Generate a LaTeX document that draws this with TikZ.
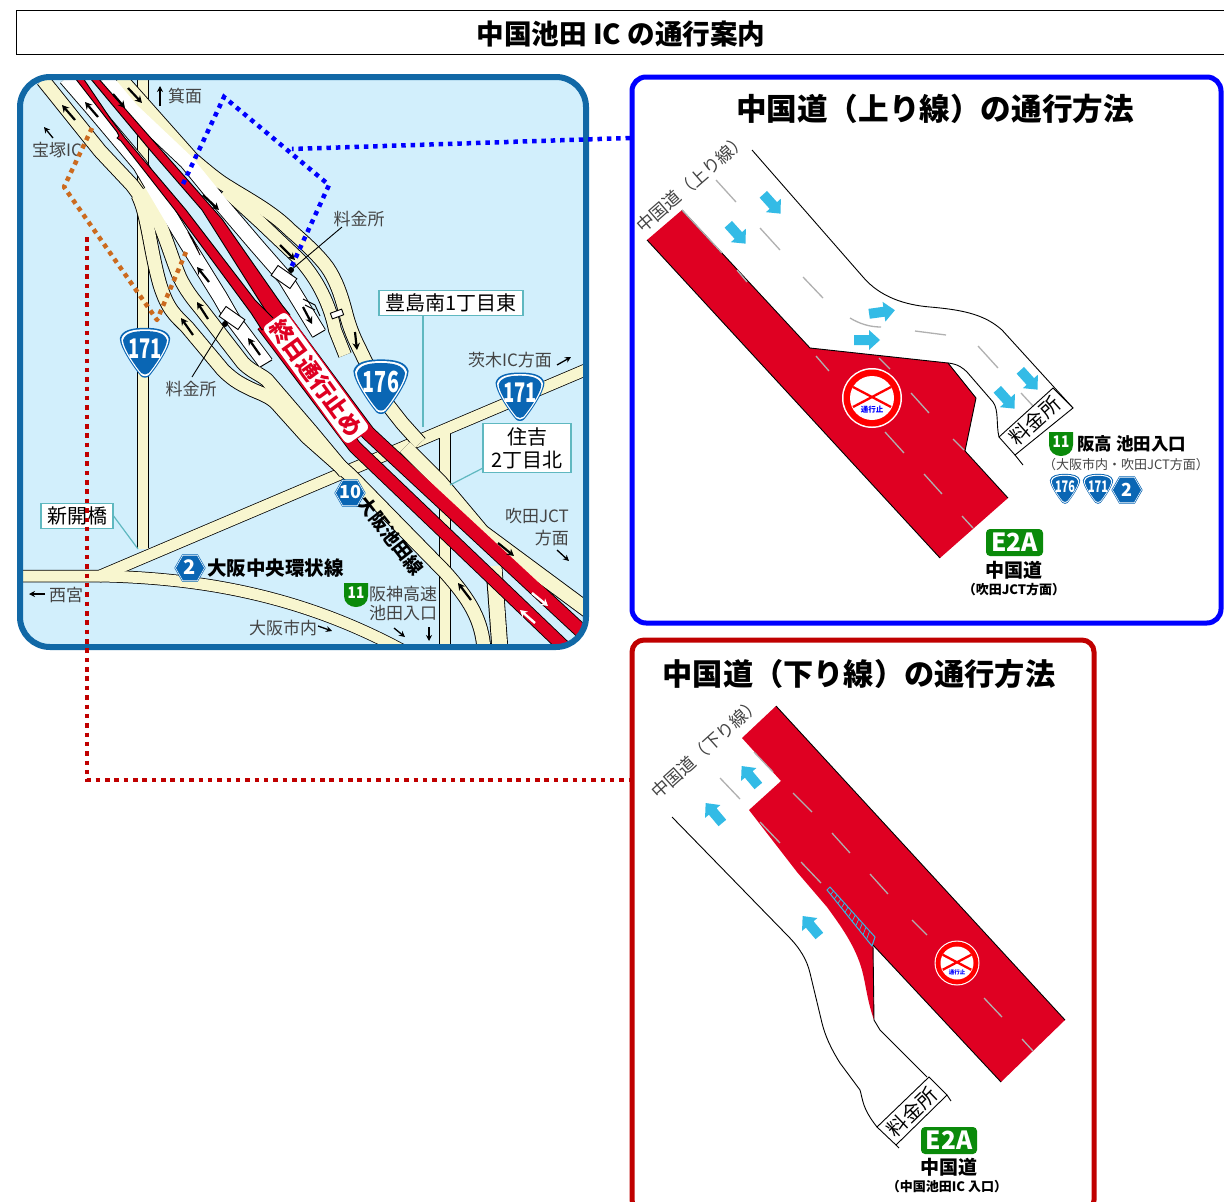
\documentclass[tikz,border=0pt]{standalone}
\usepackage{fontspec}
\usetikzlibrary{calc,arrows.meta}
\setmainfont{Noto Sans CJK JP}
\definecolor{cream}{HTML}{F8F6CF}
\definecolor{sky}{HTML}{D2EFFC}
\definecolor{mapblue}{HTML}{1168A6}
\definecolor{shieldblue}{HTML}{0A66B4}
\definecolor{redroad}{HTML}{DF0022}
\definecolor{signgreen}{HTML}{0A8A0A}
\definecolor{arrowblue}{HTML}{33BBE6}
\definecolor{teal}{HTML}{5FB8C0}
\definecolor{labelgray}{HTML}{444444}
\definecolor{dashgray}{HTML}{B0B0B0}
\definecolor{dotorange}{HTML}{CC6A1E}
\definecolor{dotred}{HTML}{C00000}
\newcommand\fs[1]{\fontsize{#1}{#1}\selectfont}
\newcommand\shieldpath{(-24,-14) .. controls (-22,-22) and (-12,-24) .. (0,-24) .. controls (12,-24) and (22,-22) .. (24,-14) .. controls (24,-5) and (10,15) .. (4,22) .. controls (2,24) and (-2,24) .. (-4,22) .. controls (-10,15) and (-24,-5) .. (-24,-14) -- cycle}
\newcommand\shieldsign[6]{%
 \begin{scope}[shift={(#2,#3)},scale=#4]
  \fill[shieldblue] \shieldpath;
  \begin{scope}[scale=.94]\fill[white] \shieldpath;\end{scope}
  \begin{scope}[scale=.87]\fill[shieldblue] \shieldpath;\end{scope}
  \node[text=white,inner sep=0pt] (#1) at (0,-4) {\fs{#5}\bfseries\scalebox{.68}[1]{#6}};
 \end{scope}}
\newcommand\hexpath{(-24,0) -- (-12,-21) -- (12,-21) -- (24,0) -- (12,21) -- (-12,21) -- cycle}
\newcommand\hexsign[6]{%
 \begin{scope}[shift={(#2,#3)},scale=#4]
  \fill[shieldblue] \hexpath;
  \begin{scope}[scale=.93]\draw[white,line width=.5pt] \hexpath;\end{scope}
  \node[text=white,inner sep=0pt] (#1) at (0,-1) {\fs{#5}\bfseries #6};
 \end{scope}}
\newcommand\greensign[5]{%
 \begin{scope}[shift={(#2,#3)},scale=#4]
  \fill[signgreen] (-12,-12) -- (12,-12) -- (12,1) .. controls (12,8) and (6,12) .. (0,12) .. controls (-6,12) and (-12,8) .. (-12,1) -- cycle;
  \node[text=white,inner sep=0pt] (#1) at (0,-2) {\fs{#5}\bfseries\scalebox{.85}[1]{11}};
 \end{scope}}
\newcommand\barrow[3]{\fill[arrowblue,shift={(#1,#2)},rotate=#3] (-13,-5) -- (2,-5) -- (2,-10) -- (13,0) -- (2,10) -- (2,5) -- (-13,5) -- cycle;}
\newcommand\nosign[6]{%
 \begin{scope}[shift={(#2,#3)},scale=#4]
  \fill[white] (0,0) circle (30);
  \fill[red] (0,0) circle (28.5);
  \fill[white] (0,0) circle (22);
  \draw[red,line width=2.3pt] (-19,-11) -- (19,9) (19,-11) -- (-19,9);
  \node[text=blue,inner sep=0pt] (#1) at (0,12) {\fs{#5}\bfseries #6};
 \end{scope}}
\newcommand\esign[4]{%
 \node[fill=signgreen,rounded corners=4pt,text=white,inner sep=0pt,minimum width=#3pt,minimum height=#4pt] (#1) at (#2) {\fs{25}\bfseries\scalebox{.98}[1]{E2A}};}
\newcommand\rdset{%
 \R{13}{cream}{(120,78) -- (192,159) .. controls (205,170) and (212,176) .. (222,183) .. controls (245,198) and (270,210) .. (290,230) .. controls (305,243) and (318,255) .. (327,267) .. controls (336,280) and (341,295) .. (345,310) .. controls (350,330) and (355,340) .. (360,350) -- (384,400) -- (402,423) -- (420,443)}
 \R{12}{cream}{(225,190) -- (260,222) -- (300,260) .. controls (318,280) and (330,305) .. (335,330) -- (345,355)}
 \R{14}{cream}{(405,447) -- (440,482) -- (482,532) -- (590,612)}
 \R{13}{cream}{(43,80) -- (100,151) -- (132,185) -- (143,200)}
 \R{13}{cream}{(138,195) .. controls (148,215) and (150,250) .. (160,285) .. controls (168,310) and (175,315) .. (187,327) -- (223,370) .. controls (235,382) and (243,385) .. (253,390) .. controls (265,395) and (273,398) .. (280,407) -- (307,437) -- (350,475) -- (445,572) .. controls (470,600) and (482,620) .. (484,650)}
 \R{13}{cream}{(142,190) .. controls (160,215) and (170,255) .. (180,278) .. controls (186,290) and (192,298) .. (202,310) -- (243,363) .. controls (252,372) and (260,374) .. (267,380) -- (310,430) -- (345,472)}
 \R{14}{white}{(105,78) -- (132,110) -- (187,162) -- (222,205) -- (257,246) -- (285,278) -- (319,333.5)}
 \R{14}{white}{(66,78) -- (92,108) -- (140,165) -- (179,231) -- (220,297) -- (232,318) -- (266,363.5)}
 \R{13}{redroad}{(278,312) -- (368,433) -- (578,628) -- (595,644)}
 \R{12}{redroad}{(263,325) -- (355,447) -- (562,645) -- (575,657)}
}
\begin{document}
\begin{tikzpicture}[x=1pt,y=-1pt,
  boxlabel/.style={draw=teal,line width=1.2pt,fill=white,inner sep=0pt,text=black},
  leader/.style={teal,line width=1.2pt},
  maptext/.style={text=labelgray,inner sep=0pt},
  boldtext/.style={text=black,inner sep=0pt},
  blk/.style={line width=2.2pt,-{Stealth[length=7pt,width=7.5pt]}},
  blkthin/.style={line width=1.3pt,-{Stealth[length=6pt,width=6pt]}},
  wht/.style={white,line width=2.4pt,-{Stealth[length=7pt,width=8pt]}},
  thinline/.style={black,line width=.9pt},
  lane/.style={dashgray,line width=1.3pt},
  bluedots/.style={blue,line width=4.5pt,dash pattern=on 4.5pt off 4.85pt},
  reddots/.style={dotred,line width=4.5pt,dash pattern=on 4.5pt off 4.85pt},
  orangedots/.style={dotorange,line width=4.5pt,dash pattern=on 4.5pt off 4.5pt}]
\useasboundingbox (0,0) rectangle (1224,1202);
\fill[white] (0,0) rectangle (1224,1202);
\clip (0,0) rectangle (1224,1202);
% title
\node[draw=black,line width=.9pt,minimum width=1210pt,minimum height=44pt,anchor=north west,inner sep=0pt] (titlebox) at (16,10) {};
\node[boldtext] (title) at (621,34) {\fs{27.6}\bfseries 中国池田 IC の通行案内};
% map
\begin{scope}
 \clip[rounded corners=30pt] (20,77) rectangle (586,647);
 \fill[sky] (20,77) rectangle (586,647);
 % under roads
 \draw[black,line width=11.8pt] (143,70) -- (143,548);
 \draw[black,line width=12.5pt] (15,576) -- (100,576) -- (590,368);
 \draw[black,line width=12.5pt] (100,576) .. controls (200,578) and (300,595) .. (402,650);
 \draw[black,line width=11.8pt] (445,432) -- (445,650);
 \draw[black,line width=16.8pt] (494,568) -- (500,650);
 \draw[cream,line width=10pt] (143,70) -- (143,549);
 \draw[cream,line width=11pt,line join=round] (15,576) -- (100,576) -- (590,368);
 \draw[cream,line width=11pt] (100,576) .. controls (200,578) and (300,595) .. (402,650);
 \draw[cream,line width=10pt] (445,428) -- (445,650);
 \draw[cream,line width=15pt] (494,566) -- (500,650);
 % bundle
 \def\R#1#2#3{\draw[black,line width=#1pt+1.8pt,line join=round] #3;}
 \rdset
 \def\R#1#2#3{\draw[#2,line width=#1pt,line join=round] #3;}
 \rdset
 % red strips
 \filldraw[fill=redroad,draw=black,line width=.9pt,line join=round] (90,78) -- (98,78) -- (222,219) -- (282,305) -- (290,315) -- (275,325) -- (262,305) -- (202,210) -- (150,150) -- cycle;
 \filldraw[fill=redroad,draw=black,line width=.9pt,line join=round] (75,78) -- (117,132) -- (119,136) -- (117,138) -- (121,141) -- (175,210) -- (251,313) -- (262,330) -- (275,320) -- (255,300) -- (186,210) -- (125,138) -- (110,118) -- (83,78) -- cycle;
 \filldraw[fill=redroad,draw=black,line width=.7pt,line join=round] (188,232) -- (200,255) -- (193,239) -- cycle;
 % booths and ends
 \draw[thinline,fill=white,shift={(284,277)},rotate=-35] (-11.5,-6) rectangle (11.5,6);
 \draw[thinline,fill=white,shift={(232,318)},rotate=-35] (-11.5,-6) rectangle (11.5,6);
 \draw[thinline] (260,367) -- (272,360);
 \draw[thinline] (313,337) -- (325,330);
 \draw[thinline] (303,299) -- (315,305) -- (320,316) (305,305) -- (315,310);
 \draw[thinline,fill=white,shift={(337,314)},rotate=20] (-6,-3) rectangle (6,3);
 % leaders for toll gates
 \coordinate (toll1) at (291,270);
 \coordinate (toll1end) at (342,227);
 \coordinate (toll2) at (225,324);
 \coordinate (toll2end) at (192,377);
 \draw[thinline] (toll1) -- (toll1end);
 \draw[thinline] (toll2) -- (toll2end);
 \fill (toll1) circle (3);
 \fill (toll2) circle (3);
 % road arrows
 \draw[blk] (75,120) -- (62,105);
 \draw[blk] (98,117) -- (85,102);
 \draw[blk] (113,94) -- (125,108);
 \draw[blk] (128,88) -- (142,103);
 \draw[blk] (203,195) -- (219,210);
 \draw[blk] (280,245) -- (295,260);
 \draw[blk] (209,282) -- (197,267);
 \draw[blk] (208,319) -- (197,302);
 \draw[blk] (193,335) -- (181,318);
 \draw[blk] (260,355) -- (248,338);
 \draw[blk] (303,307) -- (312,324);
 \draw[blk] (355,332) -- (357,350);
 \draw[blk] (498,543) -- (514,556);
 \draw[blk] (471,600) -- (458,583);
 \draw[wht] (532,593) -- (548,606);
 \draw[wht] (535,623) -- (520,610);
\end{scope}
\draw[mapblue,line width=6pt,rounded corners=30pt] (20,77) rectangle (586,647);
% direction arrows
\draw[blkthin] (160,106) -- (160,86);
\draw[blkthin] (53,138) -- (44,127);
\draw[blkthin] (557,365) -- (571,357);
\draw[blkthin] (557,550) -- (569,561);
\draw[blkthin] (45,594) -- (29,594);
\draw[blkthin] (318,626) -- (332,631);
\draw[blkthin] (394,628) -- (405,637);
\draw[blkthin] (429,627) -- (429,641);
% map text
\node[maptext] (tminoh) at (185,96) {\fs{17}箕面};
\node[maptext] (ttakara) at (57,150) {\fs{17}宝塚IC};
\node[maptext] (ttoll1) at (359,219) {\fs{17}料金所};
\node[maptext] (ttoll2) at (191,389) {\fs{17}料金所};
\node[maptext] (tibaraki) at (510,360) {\fs{17}茨木IC方面};
\node[maptext,anchor=east] (tsuita1) at (569,516) {\fs{17}吹田JCT};
\node[maptext,anchor=east] (tsuita2) at (569,538) {\fs{17}方面};
\node[maptext] (tnishi) at (66,595) {\fs{17}西宮};
\node[maptext] (tosaka) at (283,628) {\fs{17}大阪市内};
\node[maptext] (thanshin1) at (403,594) {\fs{17}阪神高速};
\node[maptext] (thanshin2) at (403,613) {\fs{17}池田入口};
\node[boldtext] (tchuo) at (275.5,568) {\fs{19.5}\bfseries 大阪中央環状線};
\node[boldtext,rotate=-52] (tikeda) at (391,536) {\fs{18.5}\bfseries 大阪池田線};
% closure label
\node[draw=redroad,line width=1.1pt,fill=white,rounded corners=6pt,text=redroad,inner sep=0pt,minimum width=146pt,minimum height=30pt,rotate=-54] (closed) at (316,378) {\fs{23}\bfseries 終日通行止め};
% signs on the map
\shieldsign{s171a}{145}{353}{1.05}{27}{171}
\shieldsign{s176}{381}{387}{1.15}{29}{176}
\shieldsign{s171b}{520}{397}{1.02}{27}{171}
\hexsign{h10}{350}{493}{.65}{18}{10}
\hexsign{h2}{190}{568}{.65}{20}{2}
\greensign{g11a}{356}{595}{1}{16}
% boxed labels
\node[boxlabel,minimum width=144pt,minimum height=25pt] (toyoshima) at (451,303) {\fs{20}豊島南1丁目東};
\coordinate (toyoend) at (423,427);
\draw[leader] (toyoshima.south -| toyoend) -- (toyoend);
\node[boxlabel,minimum width=88pt,minimum height=49pt,align=center,font=\fontsize{20}{23}\selectfont] (sumiyoshi) at (527,448) {住吉\\2丁目北};
\coordinate (sumistart) at (483,468);
\coordinate (sumiend) at (450,485);
\draw[leader] (sumistart) -- (sumiend);
\node[boxlabel,minimum width=72pt,minimum height=25pt] (shinkai) at (77,516) {\fs{20}新開橋};
\coordinate (shinend) at (138,549);
\draw[leader] (shinkai.east) -- (shinend);
% blue panel
\draw[blue,line width=5pt,rounded corners=14pt] (632,77) rectangle (1221,623);
\node[boldtext] (uptitle) at (935,109) {\fs{30.6}\bfseries 中国道（上り線）の通行方法};
\fill[redroad] (647,240) -- (682,210) -- (810,348) -- (948,363) -- (976,398) -- (965,451) -- (1008,498) -- (940,558) -- cycle;
\draw[thinline] (647,240) -- (940,558);
\draw[thinline,line join=round] (682,210) -- (810,348) -- (948,363) -- (976,398) -- (965,451) -- (1008,498);
\draw[thinline] (752,150) -- (863,277) .. controls (880,297) and (905,305) .. (930,307) .. controls (965,310) and (985,315) .. (1002,330) -- (1073,408);
\draw[thinline] (948,363) .. controls (958,364) and (963,368) .. (967,372) -- (993,402) .. controls (999,410) and (996,425) .. (999,437);
\draw[lane] (716,180) -- (736,202) (760,228) -- (780,250) (803,277) -- (823,298);
\draw[lane] (850,318) .. controls (860,324) and (870,327) .. (881,327);
\draw[lane] (915,331) -- (946,335) (978,346) -- (998,368) (1021,393) -- (1033,406);
\draw[lane] (682,210) -- (722,253) (737,270) -- (747,282) (816,356) -- (829,371) (879,358) -- (890,369) (911,393) -- (929,413) (953,439) -- (964,450) (885,432) -- (904,453) (924,474) -- (942,494) (962,516) -- (973,528);
\draw[thinline,fill=white] (999,437) -- (1053,388) -- (1073,408) -- (1015,455) -- cycle;
\draw[thinline] (1015,455) -- (1023,465);
\node[boldtext,rotate=42] (uptoll) at (1035,421) {\fs{20}料金所};
\node[maptext,rotate=41] (uproad) at (692,183) {\fs{17.5}中国道（上り線）};
\barrow{772}{204}{-48}
\barrow{737}{234}{-48}
\barrow{882}{312}{8}
\barrow{867}{340}{0}
\barrow{1029}{380}{-48}
\barrow{1006}{399}{-48}
\nosign{upsignt}{872}{398}{1}{7.5}{通行止}
\greensign{g11b}{1061}{444}{1}{16}
\node[boldtext,anchor=west] (uph) at (1077,444) {\fs{17.5}\bfseries 阪高 池田入口};
\node[maptext] (uphs) at (1126,465) {\fs{13}（大阪市内・吹田JCT方面）};
\shieldsign{s176b}{1065}{489}{.63}{16}{176}
\shieldsign{s171c}{1098}{489}{.63}{16}{171}
\hexsign{h2b}{1127}{490}{.65}{18}{2}
\esign{e2aup}{1014.5,542.5}{57}{27}
\node[boldtext] (upcg) at (1014,570) {\fs{19}\bfseries 中国道};
\node[boldtext] (upcgs) at (1014,590) {\fs{13}\bfseries（吹田JCT方面）};
% red panel
\draw[dotred,line width=5pt,rounded corners=12pt] (632,640) rectangle (1094,1212);
\node[boldtext] (downtitle) at (859,674) {\fs{30.2}\bfseries 中国道（下り線）の通行方法};
\fill[redroad] (776,706) -- (1065,1020) -- (1001,1082) -- (873,945) -- (874,1020) .. controls (867,1000) and (866,985) .. (862,970) .. controls (855,945) and (840,925) .. (827,907) -- (797,872) -- (749,810) -- (781,781) -- (742,738) -- cycle;
\draw[thinline] (776,706) -- (1065,1020);
\draw[thinline] (873,945) -- (1001,1082);
\draw[thinline] (873,945) -- (874,1020) -- (880,1030) -- (927,1077);
\draw[thinline] (672,817) -- (787,935) .. controls (800,948) and (807,960) .. (810,973) -- (822,1023) .. controls (825,1035) and (830,1047) .. (840,1063) -- (860,1090) .. controls (863,1100) and (862,1108) .. (877,1127);
\draw[lane] (720,778) -- (740,799) (754,752) -- (773,772) (793,793) -- (812,812) (832,833) -- (850,853) (870,874) -- (888,894) (760,822) -- (780,843) (801,862) -- (821,883) (912,920) -- (927,935) (984,998) -- (1002,1017) (1022,1039) -- (1033,1051);
% hatched zone
\coordinate (ha) at (827,890);
\coordinate (hb) at (872,946);
\coordinate (hc) at (830,887);
\coordinate (hd) at (875,937);
\draw[arrowblue,line width=1pt] (ha) -- (hb) -- (hd) -- (hc) -- cycle;
\foreach \t in {.08,.16,...,.96} \draw[arrowblue,line width=.7pt] ($(ha)!\t!(hb)$) -- ($(hc)!\t!(hd)$);
\draw[thinline,fill=white] (877,1127) -- (929,1077) -- (947,1095) -- (896,1145) -- cycle;
\draw[thinline] (947,1095) -- (951,1101) (896,1145) -- (899,1148);
\node[boldtext,rotate=44] (downtoll) at (912,1112) {\fs{20}料金所};
\node[maptext,rotate=42] (downroad) at (706,748) {\fs{17.5}中国道（下り線）};
\barrow{750}{776}{130}
\barrow{714}{813}{130}
\barrow{811}{926}{130}
\nosign{downsignt}{957}{963}{.75}{5.5}{通行止}
\esign{e2adown}{949,1140.5}{56}{27}
\node[boldtext] (downcg) at (949,1167) {\fs{19}\bfseries 中国道};
\node[boldtext] (downcgs) at (947,1187) {\fs{13}\bfseries（中国池田IC 入口）};
% callout dots
\draw[orangedots,line join=round] (92,128) -- (64,187) -- (157,320) -- (186,252);
\draw[bluedots] (630,138) -- (292,149);
\draw[bluedots] (183,184) -- (224,97) -- (329,185) -- (290,270);
\draw[reddots] (87,237) -- (87,780) -- (630,780);
\end{tikzpicture}
\end{document}
